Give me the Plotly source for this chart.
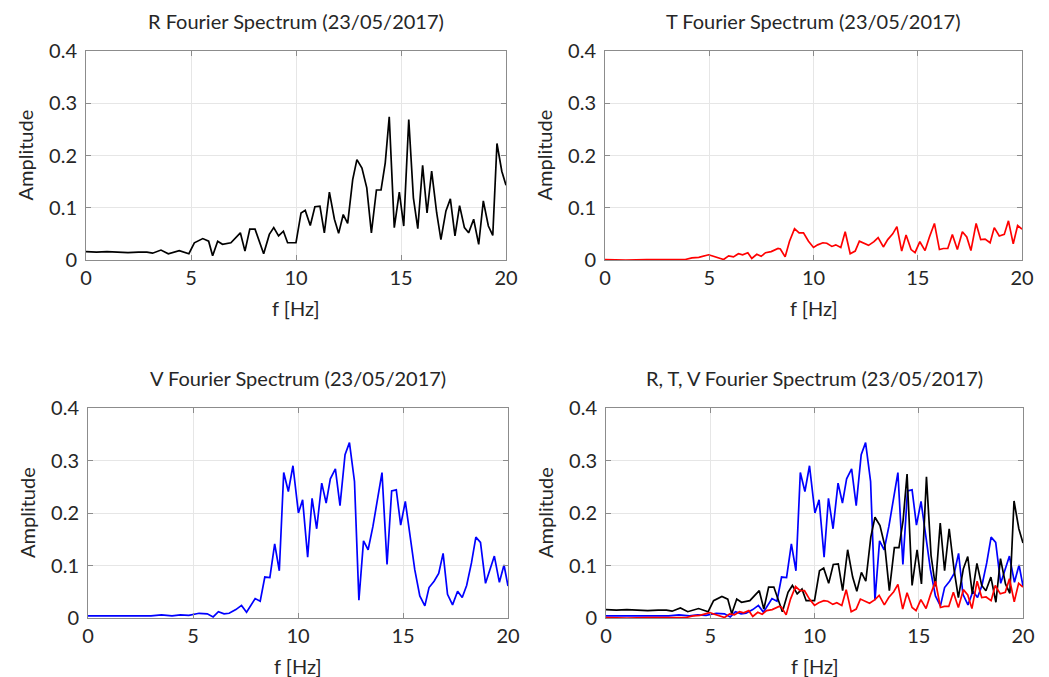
import plotly.graph_objects as go

# ---- data: (frequency Hz, amplitude) vertices ----
r_freq = [0, 0.5, 1.0, 1.5, 2.0, 2.5, 2.9, 3.17, 3.57, 3.92, 4.44, 4.9,
          5.16, 5.56, 5.84, 6.03, 6.27, 6.5, 6.9, 7.35, 7.57, 7.8, 8.05, 8.46, 8.73,
          8.94, 9.17, 9.4, 9.6, 10.0, 10.24, 10.44, 10.68, 10.9, 11.14, 11.35, 11.59,
          11.83, 12.03, 12.25, 12.46, 12.7, 12.9, 13.14, 13.37, 13.59, 13.83, 14.05,
          14.25, 14.44, 14.68, 14.92, 15.13, 15.37, 15.59, 15.8, 16.03, 16.24, 16.46,
          16.7, 16.9, 17.14, 17.35, 17.57, 17.79, 18.02, 18.22, 18.46, 18.7, 18.92,
          19.16, 19.37, 19.57, 19.8, 20.0]
r_amp = [0.016, 0.015, 0.016, 0.015, 0.014, 0.015, 0.015, 0.013, 0.019, 0.012, 0.018, 0.012,
         0.033, 0.041, 0.036, 0.008, 0.036, 0.03, 0.033, 0.052, 0.017, 0.059, 0.059, 0.012, 0.049,
         0.062, 0.046, 0.055, 0.033, 0.033, 0.09, 0.095, 0.066, 0.102, 0.103, 0.052, 0.13,
         0.078, 0.051, 0.087, 0.07, 0.154, 0.192, 0.176, 0.138, 0.052, 0.134, 0.134,
         0.186, 0.274, 0.062, 0.13, 0.065, 0.269, 0.119, 0.06, 0.181, 0.09, 0.17,
         0.09, 0.039, 0.094, 0.117, 0.046, 0.104, 0.062, 0.052, 0.078, 0.03, 0.113,
         0.065, 0.047, 0.223, 0.17, 0.143]

t_freq = [0, 1.0, 2.0, 3.0, 3.85, 4.17, 4.5, 4.97, 5.3, 5.69, 5.93, 6.16, 6.4, 6.6, 6.85,
          7.04, 7.28, 7.49, 7.7, 7.97, 8.3, 8.41, 8.64, 8.85, 9.09, 9.31, 9.52, 9.76,
          10.0, 10.2, 10.45, 10.64, 10.88, 11.07, 11.31, 11.52, 11.76, 12.0, 12.2, 12.44,
          12.64, 12.9, 13.1, 13.35, 13.56, 13.8, 14.0, 14.23, 14.44, 14.68, 14.87, 15.1,
          15.35, 15.56, 15.8, 16.04, 16.23, 16.44, 16.66, 16.9, 17.14, 17.35, 17.55, 17.8,
          18.02, 18.23, 18.47, 18.67, 18.91, 19.15, 19.35, 19.58, 19.79, 20.0]
t_amp = [0.001, 0.0, 0.001, 0.001, 0.001, 0.004, 0.005, 0.01, 0.006, 0.001, 0.008, 0.006,
         0.012, 0.01, 0.014, 0.003, 0.011, 0.007, 0.014, 0.016, 0.022, 0.021, 0.006, 0.036,
         0.06, 0.052, 0.052, 0.036, 0.024, 0.029, 0.033, 0.032, 0.026, 0.029, 0.024, 0.054,
         0.012, 0.017, 0.036, 0.031, 0.028, 0.035, 0.043, 0.025, 0.039, 0.05, 0.064, 0.017,
         0.048, 0.02, 0.014, 0.035, 0.018, 0.044, 0.07, 0.02, 0.022, 0.022, 0.049, 0.02,
         0.054, 0.044, 0.018, 0.07, 0.039, 0.04, 0.033, 0.062, 0.046, 0.049, 0.075, 0.031,
         0.066, 0.059]

v_freq = [0, 1.0, 2.0, 3.0, 3.5, 4.0, 4.4, 4.8, 5.29, 5.68, 5.96, 6.21, 6.48, 6.72, 7.04, 7.31,
          7.55, 7.75, 7.96, 8.2, 8.42, 8.66, 8.89, 9.11, 9.32, 9.54, 9.76, 10.02, 10.22,
          10.46, 10.67, 10.89, 11.13, 11.34, 11.54, 11.78, 12.0, 12.24, 12.45, 12.69,
          12.9, 13.12, 13.34, 13.57, 13.77, 14.0, 14.24, 14.46, 14.68, 14.89, 15.11,
          15.33, 15.56, 15.8, 16.04, 16.24, 16.48, 16.7, 16.91, 17.12, 17.36, 17.6, 17.82,
          18.03, 18.26, 18.47, 18.69, 18.93, 19.14, 19.35, 19.59, 19.81, 20.0]
v_amp = [0.004, 0.004, 0.005, 0.004, 0.006, 0.004, 0.006, 0.005, 0.009, 0.008, 0.002, 0.012, 0.008,
         0.009, 0.016, 0.024, 0.011, 0.024, 0.037, 0.032, 0.078, 0.077, 0.141, 0.09, 0.277,
         0.241, 0.29, 0.2, 0.225, 0.116, 0.228, 0.17, 0.257, 0.219, 0.265, 0.284, 0.214,
         0.311, 0.334, 0.26, 0.034, 0.147, 0.13, 0.175, 0.219, 0.277, 0.102, 0.242, 0.244,
         0.177, 0.222, 0.156, 0.092, 0.042, 0.023, 0.058, 0.07, 0.085, 0.123, 0.045, 0.025,
         0.051, 0.039, 0.062, 0.105, 0.154, 0.144, 0.066, 0.094, 0.118, 0.068, 0.101, 0.061]

titles = ["R Fourier Spectrum (23/05/2017)", "T Fourier Spectrum (23/05/2017)",
          "V Fourier Spectrum (23/05/2017)", "R, T, V Fourier Spectrum (23/05/2017)"]
x_ticks = [0, 5, 10, 15, 20]
y_ticks = [0, 0.1, 0.2, 0.3, 0.4]
y_tick_text = ["0", "0.1", "0.2", "0.3", "0.4"]

W, H = 1049, 677
FONT = "Lato"
TXT = "#262626"
FS = 20

# axes pixel boxes: (left, right, top, bottom)
boxes = [(86, 506, 51, 260), (605, 1022, 51, 260),
         (88, 508, 408, 618), (606, 1023, 408, 618)]

fig = go.Figure()

series_per_panel = [
    [(r_freq, r_amp, "black")],
    [(t_freq, t_amp, "#ff0000")],
    [(v_freq, v_amp, "#0000ff")],
    [(v_freq, v_amp, "#0000ff"), (r_freq, r_amp, "black"), (t_freq, t_amp, "#ff0000")],
]

layout = {}
annotations = []
for i, (box, series) in enumerate(zip(boxes, series_per_panel)):
    n = "" if i == 0 else str(i + 1)
    l, r, t, b = box
    xd = [l / W, r / W]
    yd = [1 - b / H, 1 - t / H]
    common = dict(showline=True, mirror="ticks", linecolor="#8c8c8c", linewidth=1,
                  ticks="inside", ticklen=5, tickcolor="#8c8c8c", automargin=False,
                  showgrid=True, gridcolor="#e6e6e6", gridwidth=1, zeroline=False,
                  tickfont=dict(family=FONT, size=FS, color=TXT))
    layout["xaxis" + n] = dict(domain=xd, range=[0, 20], tickvals=x_ticks,
                               anchor="y" + n, ticklabelstandoff=0, **common)
    layout["yaxis" + n] = dict(domain=yd, range=[0, 0.4], tickvals=y_ticks,
                               ticktext=y_tick_text, anchor="x" + n,
                               ticklabelstandoff=4, **common)
    for fx, fy, col in series:
        fig.add_trace(go.Scatter(x=fx, y=fy, mode="lines",
                                 line=dict(color=col, width=1.7),
                                 xaxis="x" + n, yaxis="y" + n, showlegend=False,
                                 hoverinfo="skip"))
    cx = (l + r) / 2
    annotations.append(dict(text=titles[i], x=cx / W, y=1 - (t - 30) / H,
                            xref="paper", yref="paper", showarrow=False,
                            xanchor="center", yanchor="middle",
                            font=dict(family=FONT, size=FS, color=TXT)))
    annotations.append(dict(text="f [Hz]", x=cx / W, y=1 - (b + 48) / H,
                            xref="paper", yref="paper", showarrow=False,
                            xanchor="center", yanchor="middle",
                            font=dict(family=FONT, size=FS, color=TXT)))
    annotations.append(dict(text="Amplitude", x=(l - 61) / W, y=1 - ((t + b) / 2) / H,
                            xref="paper", yref="paper", showarrow=False, textangle=-90,
                            xanchor="center", yanchor="middle",
                            font=dict(family=FONT, size=FS, color=TXT)))

fig.update_layout(width=W, height=H, margin=dict(l=0, r=0, t=0, b=0, autoexpand=False),
                  paper_bgcolor="white", plot_bgcolor="white",
                  annotations=annotations, **layout)

fig.write_html("out.html")
